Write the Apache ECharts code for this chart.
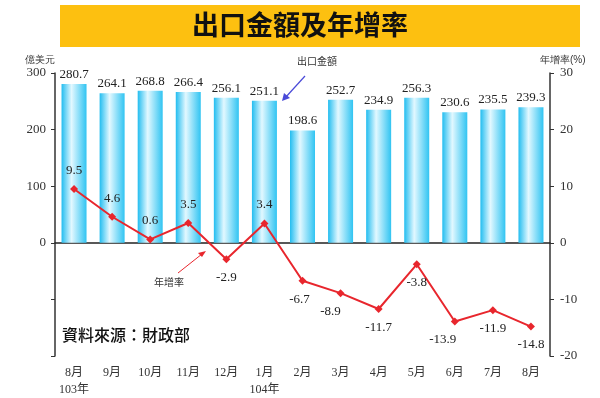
<!DOCTYPE html>
<html>
<head>
<meta charset="utf-8">
<script src="https://cdn.jsdelivr.net/npm/echarts@6/dist/echarts.min.js"></script>
<style>
  html, body { margin: 0; padding: 0; background: #fff; }
  #main { width: 600px; height: 398px; }
</style>
</head>
<body>
<div id="main"></div>
<script>
var months = ['8月\n103年', '9月', '10月', '11月', '12月', '1月\n104年', '2月', '3月', '4月', '5月', '6月', '7月', '8月'];
var exportValue = [280.7, 264.1, 268.8, 266.4, 256.1, 251.1, 198.6, 252.7, 234.9, 256.3, 230.6, 235.5, 239.3];
var growthRate = [9.5, 4.6, 0.6, 3.5, -2.9, 3.4, -6.7, -8.9, -11.7, -3.8, -13.9, -11.9, -14.8];
var ratePos = ['top', 'top', 'top', 'top', 'bottom', 'top', 'bottom', 'bottom', 'bottom', 'bottom', 'bottom', 'bottom', 'bottom'];
var rateShift = [0, 0, 0, 0, 0, 0, -3, -10, 0, 0, -12, 0, 0];

var serif = '"Liberation Serif", "Noto Sans CJK TC", serif';
var chartDom = document.getElementById('main');
var myChart = echarts.init(chartDom);
var option;

var rateData = growthRate.map(function (v, i) {
    return { value: v, label: { position: ratePos[i], offset: [rateShift[i], 0] } };
});

var barColor = new echarts.graphic.LinearGradient(0, 0, 1, 0, [
    { offset: 0, color: '#22bdf0' },
    { offset: 0.4, color: '#e2f8ff' },
    { offset: 1, color: '#30c4f2' }
]);

option = {
    animation: false,
    grid: { left: 55, right: 50, top: 73, bottom: 41 },
    xAxis: [
        {
            type: 'category',
            data: months,
            position: 'bottom',
            axisLine: { show: false },
            axisTick: { show: false },
            axisLabel: { interval: 0, color: '#333', fontFamily: serif, fontSize: 12, lineHeight: 17, margin: 8 }
        },
        {
            type: 'category',
            data: months,
            axisLine: { onZero: true, lineStyle: { color: '#222', width: 1.5 } },
            axisTick: { inside: true, length: 5, lineStyle: { color: '#222' } },
            axisLabel: { show: false }
        }
    ],
    yAxis: [
        {
            type: 'value',
            min: -200, max: 300, interval: 100,
            name: '億美元',
            nameGap: 8,
            nameTextStyle: { color: '#333', fontSize: 10, align: 'right', padding: [0, 0, 0, 0] },
            splitLine: { show: false },
            axisLine: { show: true, lineStyle: { color: '#333', width: 1.5 } },
            axisTick: { show: true, length: 4, lineStyle: { color: '#333' } },
            axisLabel: {
                color: '#333', fontFamily: serif, fontSize: 13, margin: 9,
                formatter: function (v) { return v >= 0 ? v : ''; }
            }
        },
        {
            type: 'value',
            min: -20, max: 30, interval: 10,
            name: '年增率(%)',
            nameGap: 8,
            nameTextStyle: { color: '#333', fontSize: 10, align: 'left', padding: [0, 0, 0, -10] },
            splitLine: { show: false },
            axisLine: { show: true, lineStyle: { color: '#333', width: 1.5 } },
            axisTick: { show: true, length: 4, lineStyle: { color: '#333' } },
            axisLabel: { color: '#333', fontFamily: serif, fontSize: 13, margin: 10 }
        }
    ],
    series: [
        {
            name: '出口金額',
            type: 'bar',
            barWidth: 25,
            data: exportValue,
            itemStyle: { color: barColor },
            label: {
                show: true, position: 'top', distance: 3,
                color: '#222', fontFamily: serif, fontSize: 13,
                formatter: function (p) { return p.value.toFixed(1); }
            }
        },
        {
            name: '年增率',
            type: 'line',
            yAxisIndex: 1,
            data: rateData,
            symbol: 'diamond',
            symbolSize: 8,
            lineStyle: { color: '#e8262d', width: 2 },
            itemStyle: { color: '#e8262d' },
            label: {
                show: true, distance: 8,
                color: '#222', fontFamily: serif, fontSize: 13,
                formatter: function (p) { return p.value.toFixed(1); }
            }
        }
    ],
    graphic: [
        {
            type: 'rect', left: 60, top: 5,
            shape: { width: 520, height: 42 },
            style: { fill: '#fdc010' }
        },
        {
            type: 'text', left: 'center', top: 11,
            style: { text: '出口金額及年增率', fill: '#111', font: 'bold 27px "Noto Sans CJK TC", sans-serif' }
        },
        {
            type: 'text', left: 297, top: 56,
            style: { text: '出口金額', fill: '#333', font: '10px "Noto Sans CJK TC", sans-serif' }
        },
        {
            type: 'line',
            shape: { x1: 305, y1: 76, x2: 285, y2: 98 },
            style: { stroke: '#4a4ad8', lineWidth: 1.2 }
        },
        {
            type: 'polygon',
            shape: { points: [[282, 101], [284, 93], [290, 98]] },
            style: { fill: '#4a4ad8' }
        },
        {
            type: 'text', left: 154, top: 277,
            style: { text: '年增率', fill: '#333', font: '10px "Noto Sans CJK TC", sans-serif' }
        },
        {
            type: 'line',
            shape: { x1: 178, y1: 273, x2: 202, y2: 254 },
            style: { stroke: '#e8262d', lineWidth: 1 }
        },
        {
            type: 'polygon',
            shape: { points: [[206, 251], [198, 253], [202, 257]] },
            style: { fill: '#e8262d' }
        },
        {
            type: 'text', left: 62, top: 327,
            style: { text: '資料來源：財政部', fill: '#111', font: '500 16px "Noto Sans CJK TC", sans-serif' }
        }
    ]
};

option && myChart.setOption(option);
</script>
</body>
</html>
